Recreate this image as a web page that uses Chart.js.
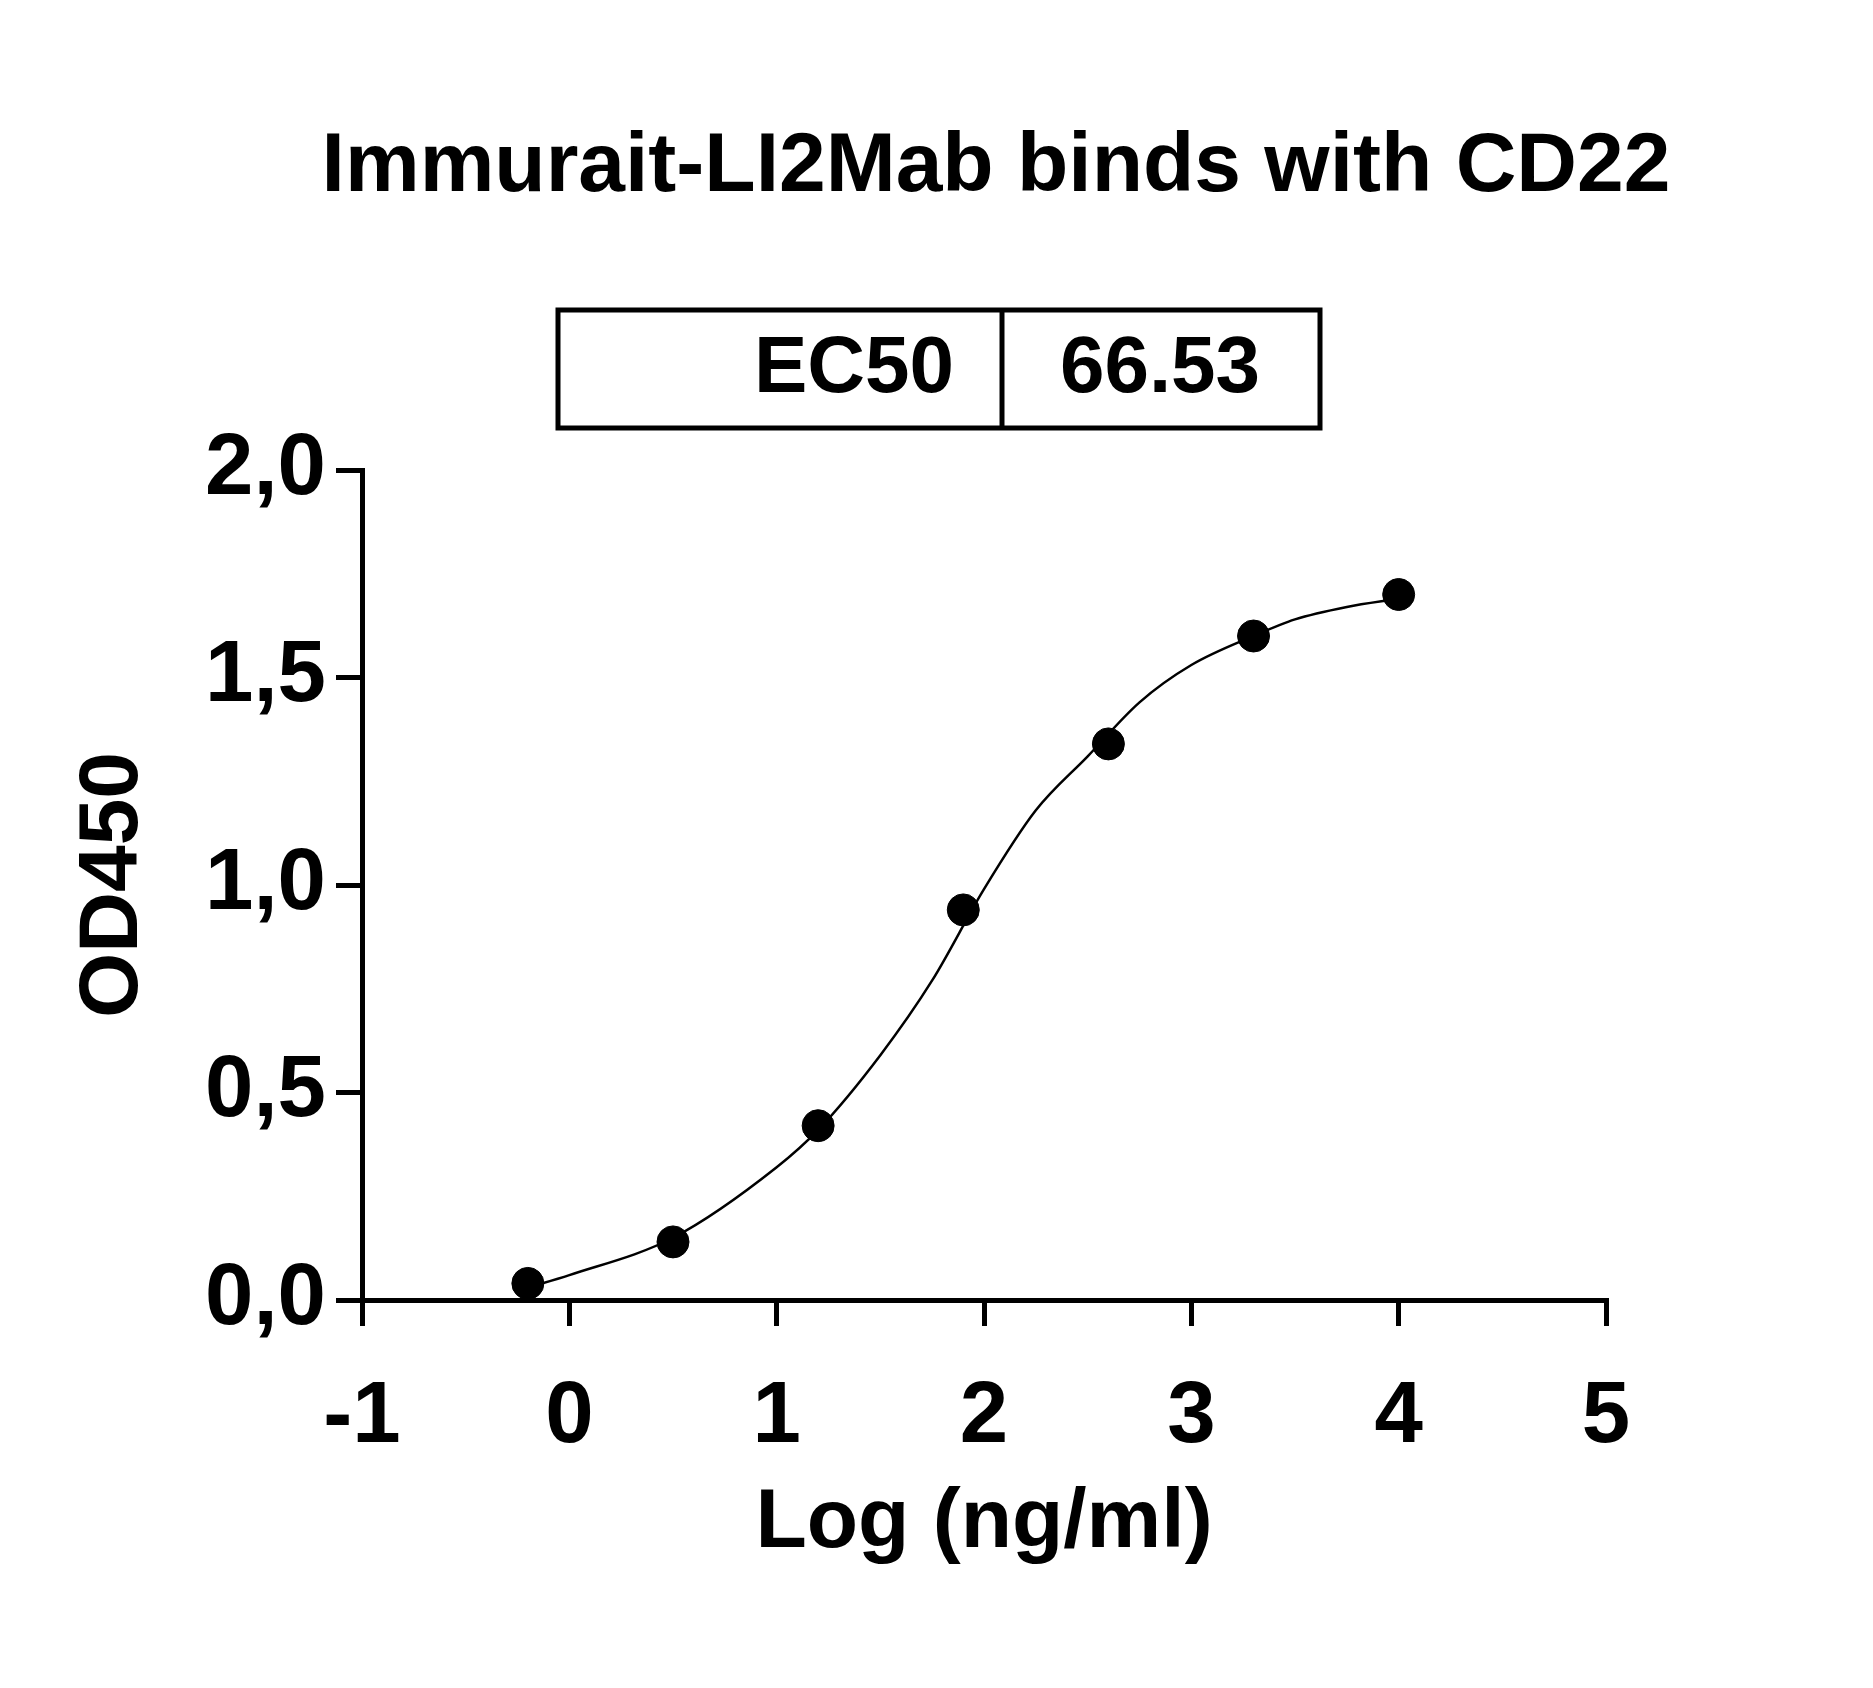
<!DOCTYPE html>
<html><head><meta charset="utf-8">
<script src="https://cdn.jsdelivr.net/npm/chart.js@4/dist/chart.umd.min.js"></script>
<style>html,body{margin:0;padding:0;background:#fff}canvas{display:block}</style>
</head><body>
<canvas id="c" width="1873" height="1688" style="width:1873px;height:1688px"></canvas>
<script>
const titleText = "Immurait-LI2Mab binds with CD22";
const xAxisTitle = "Log (ng/ml)";
const yAxisTitle = "OD450";
const ec50Label = "EC50";
const ec50Value = "66.53";
const pointX = [-0.2, 0.5, 1.2, 1.9, 2.6, 3.3, 4.0];
const pointY = [0.04, 0.14, 0.42, 0.94, 1.34, 1.60, 1.70];
const curveX = [-0.2, 0, 0.5, 1.0, 1.2, 1.5, 1.75, 2.0, 2.25, 2.5, 2.75, 3.0, 3.3, 3.5, 3.75, 4.0];
const curveY = [0.03, 0.06, 0.15, 0.32, 0.41, 0.59, 0.77, 0.99, 1.18, 1.31, 1.44, 1.53, 1.60, 1.64, 1.67, 1.69];
const xTicks = [-1, 0, 1, 2, 3, 4, 5];
const yTicks = [0, 0.5, 1.0, 1.5, 2.0];

const FONT = "'Liberation Sans', Arial, sans-serif";
const overlay = {
  id: 'overlay',
  afterDraw(chart) {
    const ctx = chart.ctx;
    const xs = chart.scales.x, ys = chart.scales.y;
    ctx.save();
    ctx.fillStyle = '#000';
    ctx.textBaseline = 'middle';
    ctx.font = "bold 84px " + FONT;
    ctx.textAlign = 'center';
    ctx.fillText(titleText, 996, 168);
    ctx.fillText(xAxisTitle, (xs.left + xs.right) / 2, 1524);
    ctx.save();
    ctx.translate(114, (ys.top + ys.bottom) / 2);
    ctx.rotate(-Math.PI / 2);
    ctx.fillText(yAxisTitle, 0, 0);
    ctx.restore();
    // EC50 box
    ctx.lineWidth = 5;
    ctx.strokeStyle = '#000';
    ctx.strokeRect(558, 310, 762, 118);
    ctx.beginPath(); ctx.moveTo(1002, 310); ctx.lineTo(1002, 428); ctx.stroke();
    ctx.font = "bold 80px " + FONT;
    ctx.textAlign = 'right';
    ctx.fillText(ec50Label, 954, 370);
    ctx.textAlign = 'center';
    ctx.fillText(ec50Value, 1160, 370);
    ctx.restore();
  }
};

new Chart(document.getElementById('c'), {
  type: 'scatter',
  data: {
    datasets: [
      { data: curveX.map((x, i) => ({x, y: curveY[i]})), showLine: true, borderColor: '#000',
        borderWidth: 2.5, pointRadius: 0, tension: 0.4, cubicInterpolationMode: 'monotone', order: 2 },
      { data: pointX.map((x, i) => ({x, y: pointY[i]})), backgroundColor: '#000', borderColor: '#000',
        pointRadius: 16, showLine: false, order: 1 }
    ]
  },
  options: {
    responsive: false, animation: false, devicePixelRatio: 1,
    layout: { padding: { left: 0, right: 267, top: 470, bottom: 0 } },
    plugins: { legend: { display: false }, tooltip: { enabled: false } },
    scales: {
      x: {
        type: 'linear', min: -1, max: 5,
        afterFit(s) { s.height = 388; },
        afterBuildTicks(s) { s.ticks = xTicks.map(v => ({value: v})); },
        grid: { drawOnChartArea: false, color: '#000', lineWidth: 5, tickLength: 26, tickWidth: 5 },
        border: { color: '#000', width: 5 },
        ticks: { color: '#000', padding: 40, font: { family: FONT, size: 87, weight: 'bold' },
          callback: v => String(v) }
      },
      y: {
        type: 'linear', min: 0, max: 2,
        afterFit(s) { s.width = 362; },
        afterBuildTicks(s) { s.ticks = yTicks.map(v => ({value: v})); },
        grid: { drawOnChartArea: false, color: '#000', lineWidth: 5, tickLength: 26, tickWidth: 5 },
        border: { color: '#000', width: 5 },
        ticks: { color: '#000', padding: 10, font: { family: FONT, size: 87, weight: 'bold' },
          callback: v => v.toFixed(1).replace('.', ',') }
      }
    }
  },
  plugins: [overlay]
});
</script>
</body></html>
